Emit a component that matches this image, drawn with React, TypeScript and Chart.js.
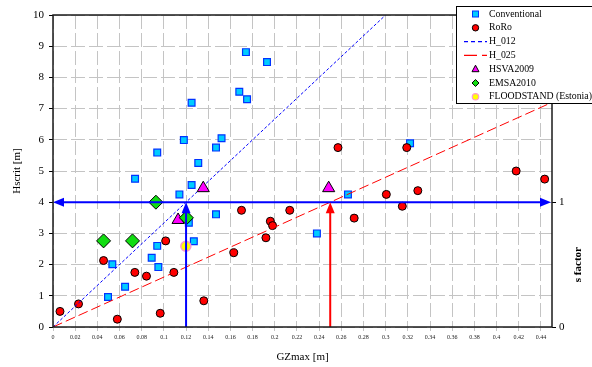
import React, { useEffect, useRef } from 'react';
import { Chart, registerables } from 'chart.js';

Chart.register(...registerables);

// ---------- data ----------
const conventionalGZ = [0.174, 0.193, 0.168, 0.175, 0.125, 0.118, 0.152, 0.147, 0.094, 0.131, 0.074, 0.125, 0.114, 0.147, 0.1225, 0.127, 0.094, 0.089, 0.0535, 0.095, 0.065, 0.0496, 0.266, 0.238, 0.322];
const conventionalHs = [8.81, 8.49, 7.54, 7.30, 7.19, 5.99, 6.05, 5.75, 5.59, 5.26, 4.75, 4.55, 4.25, 3.61, 3.34, 2.75, 2.60, 2.22, 2.01, 1.92, 1.29, 0.96, 4.25, 3.00, 5.89];

const roroGZ = [0.0063, 0.023, 0.058, 0.0967, 0.136, 0.0456, 0.0738, 0.0843, 0.109, 0.1016, 0.163, 0.170, 0.196, 0.198, 0.2135, 0.192, 0.2716, 0.3006, 0.315, 0.329, 0.4177, 0.4434, 0.257, 0.319];
const roroHs = [0.50, 0.74, 0.25, 0.44, 0.84, 2.13, 1.75, 1.63, 1.75, 2.76, 2.38, 3.74, 3.39, 3.25, 3.74, 2.86, 3.49, 4.25, 3.87, 4.37, 5.00, 4.74, 5.75, 5.75];

const h012GZ = [0, 0.3];
const h012Hs = [0, 10];
const h025GZ = [0, 0.45];
const h025Hs = [0, 7.2];

const hsvaGZ = [0.1355, 0.1128, 0.2486];
const hsvaHs = [4.45, 3.43, 4.45];

const emsaGZ = [0.0928, 0.1203, 0.0456, 0.0717];
const emsaHs = [4.0, 3.5, 2.76, 2.76];

const floodstandGZ = [0.1198];
const floodstandHs = [2.59];

const GZ_012 = 0.12;
const GZ_025 = 0.25;
const HS_TARGET = 4;

const xTickValues = [0, 0.02, 0.04, 0.06, 0.08, 0.1, 0.12, 0.14, 0.16, 0.18, 0.2, 0.22, 0.24, 0.26, 0.28, 0.3, 0.32, 0.34, 0.36, 0.38, 0.4, 0.42, 0.44];
const sFactorTicks = [0, 1];

const legendLabels = ['Conventional', 'RoRo', 'H_012', 'H_025', 'HSVA2009', 'EMSA2010', 'FLOODSTAND (Estonia)'];

const SERIF = "'Liberation Serif', 'Times New Roman', serif";
const GRID = '#c4c4c4';

function pts(xs: number[], ys: number[]) {
  return xs.map((x, i) => ({ x, y: ys[i] }));
}

export default function App() {
  const ref = useRef<HTMLCanvasElement>(null);

  useEffect(() => {
    document.body.style.margin = '0';
    const canvas = ref.current!;

    const overlay = {
      id: 'overlay',
      afterDatasetsDraw(chart: any) {
        const ctx = chart.ctx as CanvasRenderingContext2D;
        const { left, right, top, bottom } = chart.chartArea;
        const xs = chart.scales.x;
        const ys = chart.scales.y;
        const yT = ys.getPixelForValue(HS_TARGET);
        const xB = xs.getPixelForValue(GZ_012);
        const xR = xs.getPixelForValue(GZ_025);

        ctx.save();
        // blue horizontal double arrow
        ctx.strokeStyle = '#0000FF';
        ctx.fillStyle = '#0000FF';
        ctx.lineWidth = 2;
        ctx.beginPath();
        ctx.moveTo(left + 6, yT);
        ctx.lineTo(right - 6, yT);
        ctx.stroke();
        ctx.beginPath();
        ctx.moveTo(left, yT);
        ctx.lineTo(left + 11, yT - 4.5);
        ctx.lineTo(left + 11, yT + 4.5);
        ctx.closePath();
        ctx.fill();
        ctx.beginPath();
        ctx.moveTo(right - 1, yT);
        ctx.lineTo(right - 12, yT - 4.5);
        ctx.lineTo(right - 12, yT + 4.5);
        ctx.closePath();
        ctx.fill();
        // blue vertical arrow
        ctx.beginPath();
        ctx.moveTo(xB, bottom);
        ctx.lineTo(xB, yT + 6);
        ctx.stroke();
        ctx.beginPath();
        ctx.moveTo(xB, yT);
        ctx.lineTo(xB - 4.5, yT + 11);
        ctx.lineTo(xB + 4.5, yT + 11);
        ctx.closePath();
        ctx.fill();
        // red vertical arrow
        ctx.strokeStyle = '#FF0000';
        ctx.fillStyle = '#FF0000';
        ctx.beginPath();
        ctx.moveTo(xR, bottom);
        ctx.lineTo(xR, yT + 6);
        ctx.stroke();
        ctx.beginPath();
        ctx.moveTo(xR, yT);
        ctx.lineTo(xR - 4.5, yT + 11);
        ctx.lineTo(xR + 4.5, yT + 11);
        ctx.closePath();
        ctx.fill();

        // frame
        ctx.strokeStyle = '#1a1a1a';
        ctx.lineWidth = 1.5;
        ctx.strokeRect(left, top, right - left, bottom - top);
        ctx.restore();
      },
      afterDraw(chart: any) {
        const ctx = chart.ctx as CanvasRenderingContext2D;
        const { right } = chart.chartArea;
        const y2 = chart.scales.y2;
        ctx.save();
        // right axis title
        const midY = (y2.getPixelForValue(0) + y2.getPixelForValue(1)) / 2;
        ctx.translate(right + 26, midY);
        ctx.rotate(-Math.PI / 2);
        ctx.font = `bold 11px ${SERIF}`;
        ctx.fillStyle = '#000';
        ctx.textAlign = 'center';
        ctx.textBaseline = 'middle';
        ctx.fillText('s factor', 0, 0);
        ctx.restore();

        // legend
        ctx.save();
        const lx = 456, ly = 6, lw = 200, lh = 97;
        ctx.fillStyle = '#fff';
        ctx.fillRect(lx, ly, lw, lh);
        ctx.strokeStyle = '#000';
        ctx.lineWidth = 1;
        ctx.strokeRect(lx + 0.5, ly + 0.5, lw, lh);
        const mx = 475.5;
        const tx = 489;
        ctx.font = `9.8px ${SERIF}`;
        ctx.textBaseline = 'middle';
        ctx.textAlign = 'left';
        legendLabels.forEach((label, i) => {
          const yy = 14 + i * 13.8;
          ctx.save();
          if (i === 0) {
            ctx.fillStyle = '#00CCFF';
            ctx.strokeStyle = '#0033FF';
            ctx.lineWidth = 1;
            ctx.fillRect(mx - 3, yy - 3, 6, 6);
            ctx.strokeRect(mx - 3, yy - 3, 6, 6);
          } else if (i === 1) {
            ctx.fillStyle = '#FF0000';
            ctx.strokeStyle = '#000';
            ctx.lineWidth = 1;
            ctx.beginPath();
            ctx.arc(mx, yy, 3.2, 0, Math.PI * 2);
            ctx.fill();
            ctx.stroke();
          } else if (i === 2) {
            ctx.strokeStyle = '#0000FF';
            ctx.lineWidth = 1.2;
            ctx.setLineDash([4, 3]);
            ctx.beginPath();
            ctx.moveTo(464, yy);
            ctx.lineTo(487, yy);
            ctx.stroke();
          } else if (i === 3) {
            ctx.strokeStyle = '#FF0000';
            ctx.lineWidth = 1.2;
            ctx.setLineDash([13, 5]);
            ctx.beginPath();
            ctx.moveTo(464, yy);
            ctx.lineTo(487, yy);
            ctx.stroke();
          } else if (i === 4) {
            ctx.fillStyle = '#FF00FF';
            ctx.strokeStyle = '#000';
            ctx.lineWidth = 1;
            ctx.beginPath();
            ctx.moveTo(mx, yy - 4);
            ctx.lineTo(mx + 3.5, yy + 2.5);
            ctx.lineTo(mx - 3.5, yy + 2.5);
            ctx.closePath();
            ctx.fill();
            ctx.stroke();
          } else if (i === 5) {
            ctx.fillStyle = '#11DD11';
            ctx.strokeStyle = '#000';
            ctx.lineWidth = 1;
            ctx.beginPath();
            ctx.moveTo(mx, yy - 3.5);
            ctx.lineTo(mx + 3.5, yy);
            ctx.lineTo(mx, yy + 3.5);
            ctx.lineTo(mx - 3.5, yy);
            ctx.closePath();
            ctx.fill();
            ctx.stroke();
          } else {
            ctx.fillStyle = '#FFFF00';
            ctx.strokeStyle = '#FF99CC';
            ctx.lineWidth = 1.2;
            ctx.beginPath();
            ctx.arc(mx, yy, 3.2, 0, Math.PI * 2);
            ctx.fill();
            ctx.stroke();
          }
          ctx.restore();
          ctx.fillStyle = '#000';
          ctx.fillText(label, tx, yy);
        });
        ctx.restore();
      },
    };

    const chart = new Chart(canvas, {
      type: 'scatter',
      data: {
        datasets: [
          {
            label: 'Conventional',
            data: pts(conventionalGZ, conventionalHs),
            pointStyle: 'rect',
            pointRadius: 4.8,
            backgroundColor: '#00CCFF',
            borderColor: '#0033FF',
            borderWidth: 1.2,
            order: 7,
          },
          {
            label: 'RoRo',
            data: pts(roroGZ, roroHs),
            pointStyle: 'circle',
            pointRadius: 4,
            backgroundColor: '#FF0000',
            borderColor: '#000000',
            borderWidth: 1,
            order: 6,
          },
          {
            label: 'H_012',
            data: pts(h012GZ, h012Hs),
            showLine: true,
            pointRadius: 0,
            borderColor: '#0000FF',
            borderWidth: 1,
            borderDash: [3, 2],
            order: 5,
          },
          {
            label: 'H_025',
            data: pts(h025GZ, h025Hs),
            showLine: true,
            pointRadius: 0,
            borderColor: '#FF0000',
            borderWidth: 1,
            borderDash: [10, 4],
            order: 4,
          },
          {
            label: 'HSVA2009',
            data: pts(hsvaGZ, hsvaHs),
            pointStyle: 'triangle',
            pointRadius: 7,
            backgroundColor: '#FF00FF',
            borderColor: '#000000',
            borderWidth: 1,
            order: 3,
          },
          {
            label: 'EMSA2010',
            data: pts(emsaGZ, emsaHs),
            pointStyle: 'rectRot',
            pointRadius: 7,
            backgroundColor: '#11DD11',
            borderColor: '#000000',
            borderWidth: 1,
            order: 2,
          },
          {
            label: 'FLOODSTAND (Estonia)',
            data: pts(floodstandGZ, floodstandHs),
            pointStyle: 'circle',
            pointRadius: 5,
            backgroundColor: '#FFFF00',
            borderColor: '#FF99CC',
            borderWidth: 1.5,
            order: 1,
          },
        ],
      },
      options: {
        responsive: false,
        animation: false,
        devicePixelRatio: 1,
        layout: { padding: { top: 15, left: 0, right: 0, bottom: 0 } },
        plugins: {
          legend: { display: false },
          tooltip: { enabled: false },
        },
        scales: {
          x: {
            type: 'linear',
            position: 'bottom',
            min: 0,
            max: 0.45,
            afterBuildTicks: (s: any) => {
              s.ticks = xTickValues.map((v) => ({ value: v }));
            },
            ticks: {
              callback: (v: any) => String(+(+v).toFixed(2)),
              font: { family: SERIF, size: 6 },
              color: '#222',
              padding: 3,
              maxRotation: 0,
              autoSkip: false,
            },
            grid: { color: GRID, lineWidth: 1, tickLength: 4, tickColor: GRID },
            border: { display: false, dash: [14, 4] },
            title: {
              display: true,
              text: 'GZmax [m]',
              font: { family: SERIF, size: 11 },
              color: '#000',
              padding: { top: 0, bottom: 3 },
            },
            afterFit: (s: any) => {
              s.height = 40;
            },
          },
          y: {
            type: 'linear',
            position: 'left',
            min: 0,
            max: 10,
            ticks: {
              stepSize: 1,
              font: { family: SERIF, size: 11 },
              color: '#000',
              padding: 5,
            },
            grid: { color: GRID, lineWidth: 1, tickLength: 4, tickColor: '#000' },
            border: { display: false, dash: [14, 4] },
            title: {
              display: true,
              text: 'Hscrit [m]',
              font: { family: SERIF, size: 11 },
              color: '#000',
              padding: { top: 10.8, bottom: 0 },
            },
            afterFit: (s: any) => {
              s.width = 53;
            },
          },
          y2: {
            type: 'linear',
            position: 'right',
            min: 0,
            max: 2.5,
            afterBuildTicks: (s: any) => {
              s.ticks = sFactorTicks.map((v) => ({ value: v }));
            },
            ticks: {
              font: { family: SERIF, size: 11 },
              color: '#000',
              padding: 3,
            },
            grid: { drawOnChartArea: false, tickLength: 4, tickColor: '#000' },
            border: { display: false },
            afterFit: (s: any) => {
              s.width = 40;
            },
          },
        },
      } as any,
      plugins: [overlay],
    });

    return () => chart.destroy();
  }, []);

  return (
    <div style={{ width: 592, height: 367 }}>
      <canvas ref={ref} width={592} height={367} style={{ display: 'block' }} />
    </div>
  );
}
